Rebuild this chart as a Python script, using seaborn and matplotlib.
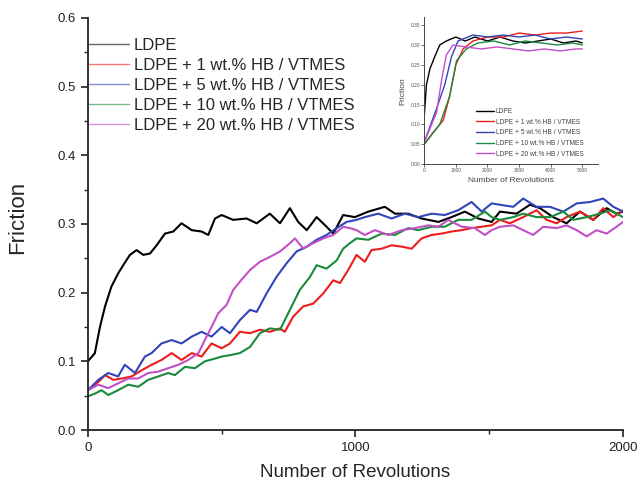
import matplotlib
matplotlib.use("Agg")
import matplotlib.pyplot as plt
import seaborn as sns
import pandas as pd
from matplotlib.ticker import MultipleLocator

# series names + colours
labels = ["LDPE", "LDPE + 1 wt.% HB / VTMES", "LDPE + 5 wt.% HB / VTMES",
          "LDPE + 10 wt.% HB / VTMES", "LDPE + 20 wt.% HB / VTMES"]
colors = ["#000000", "#ee1c1c", "#2f45b8", "#1a8a3c", "#c24fc6"]

# main plot
ldpe_x = [0, 26, 45, 64, 88, 113, 132, 157, 182, 207, 232, 257, 288, 319, 350, 388, 425, 450, 475, 500,
          543, 593, 631, 680, 718, 755, 786, 818, 855, 892, 917, 954, 998, 1048, 1110, 1148, 1197, 1247,
          1310, 1359, 1409, 1459, 1509, 1540, 1602, 1652, 1690, 1739, 1789, 1839, 1889, 1939, 1976, 2000]
ldpe_y = [0.100, 0.112, 0.150, 0.180, 0.209, 0.228, 0.240, 0.255, 0.262, 0.255, 0.257, 0.269, 0.286, 0.289,
          0.301, 0.291, 0.289, 0.284, 0.308, 0.313, 0.306, 0.308, 0.301, 0.315, 0.301, 0.323, 0.303, 0.291,
          0.310, 0.296, 0.286, 0.313, 0.310, 0.318, 0.325, 0.315, 0.315, 0.308, 0.303, 0.310, 0.318, 0.308,
          0.303, 0.318, 0.315, 0.328, 0.323, 0.310, 0.301, 0.318, 0.306, 0.323, 0.315, 0.318]

hb1_x = [0, 39, 64, 95, 126, 163, 201, 238, 275, 313, 350, 388, 425, 462, 500, 531, 568, 606, 643, 680,
         718, 736, 767, 805, 842, 880, 917, 942, 973, 1004, 1035, 1060, 1098, 1135, 1173, 1210, 1247, 1285,
         1322, 1359, 1397, 1434, 1472, 1509, 1540, 1577, 1627, 1677, 1714, 1752, 1789, 1839, 1889, 1926,
         1964, 2000]
hb1_y = [0.058, 0.070, 0.080, 0.073, 0.075, 0.078, 0.087, 0.095, 0.102, 0.112, 0.102, 0.112, 0.107, 0.126,
         0.119, 0.126, 0.143, 0.141, 0.146, 0.143, 0.148, 0.143, 0.165, 0.180, 0.184, 0.199, 0.218, 0.214,
         0.233, 0.255, 0.245, 0.262, 0.264, 0.269, 0.267, 0.264, 0.279, 0.284, 0.286, 0.289, 0.291, 0.294,
         0.296, 0.298, 0.306, 0.301, 0.310, 0.320, 0.306, 0.301, 0.310, 0.318, 0.306, 0.323, 0.310, 0.320]

hb5_x = [0, 39, 76, 113, 138, 176, 213, 238, 275, 313, 350, 388, 425, 462, 500, 531, 568, 606, 631, 668,
         705, 743, 780, 818, 855, 892, 930, 967, 1004, 1035, 1085, 1135, 1185, 1235, 1285, 1334, 1384, 1434,
         1472, 1509, 1540, 1590, 1627, 1677, 1727, 1777, 1827, 1877, 1926, 1964, 2000]
hb5_y = [0.058, 0.073, 0.083, 0.078, 0.095, 0.083, 0.107, 0.112, 0.126, 0.131, 0.126, 0.136, 0.143, 0.136,
         0.150, 0.141, 0.160, 0.175, 0.172, 0.199, 0.223, 0.243, 0.260, 0.267, 0.277, 0.284, 0.294, 0.303,
         0.306, 0.310, 0.315, 0.308, 0.315, 0.310, 0.315, 0.313, 0.320, 0.332, 0.318, 0.330, 0.328, 0.325,
         0.337, 0.325, 0.325, 0.318, 0.330, 0.332, 0.337, 0.325, 0.318]

hb10_x = [0, 26, 51, 76, 113, 151, 188, 225, 263, 300, 325, 363, 400, 437, 475, 500, 531, 568, 606, 643,
          680, 718, 755, 792, 830, 855, 892, 930, 954, 979, 1004, 1048, 1098, 1148, 1197, 1235, 1285, 1334,
          1384, 1434, 1484, 1509, 1540, 1590, 1627, 1677, 1727, 1777, 1814, 1864, 1914, 1951, 2000]
hb10_y = [0.049, 0.053, 0.058, 0.051, 0.058, 0.066, 0.063, 0.073, 0.078, 0.083, 0.080, 0.092, 0.090, 0.100,
          0.104, 0.107, 0.109, 0.112, 0.121, 0.141, 0.148, 0.146, 0.175, 0.204, 0.223, 0.240, 0.235, 0.247,
          0.264, 0.272, 0.279, 0.277, 0.286, 0.284, 0.294, 0.291, 0.296, 0.296, 0.306, 0.306, 0.318, 0.310,
          0.306, 0.310, 0.315, 0.310, 0.310, 0.318, 0.306, 0.310, 0.315, 0.320, 0.310]

hb20_x = [0, 39, 76, 113, 151, 188, 225, 263, 300, 338, 375, 413, 437, 462, 487, 518, 543, 568, 606, 643,
          680, 718, 755, 774, 805, 842, 880, 917, 954, 979, 1004, 1035, 1073, 1123, 1173, 1222, 1272, 1310,
          1347, 1397, 1446, 1484, 1509, 1540, 1590, 1627, 1664, 1702, 1752, 1789, 1827, 1864, 1901, 1939,
          1976, 2000]
hb20_y = [0.058, 0.066, 0.061, 0.068, 0.075, 0.075, 0.083, 0.085, 0.090, 0.095, 0.102, 0.112, 0.131, 0.150,
          0.170, 0.182, 0.204, 0.216, 0.233, 0.245, 0.252, 0.260, 0.272, 0.279, 0.264, 0.272, 0.279, 0.284,
          0.296, 0.294, 0.291, 0.284, 0.291, 0.284, 0.291, 0.294, 0.298, 0.296, 0.306, 0.296, 0.294, 0.284,
          0.291, 0.296, 0.298, 0.291, 0.284, 0.296, 0.294, 0.298, 0.291, 0.282, 0.291, 0.286, 0.296, 0.303]

# inset (0-5000 revolutions)
in_ldpe_x = [0, 70, 180, 330, 490, 700, 1000, 1300, 1600, 2000, 2400, 2800, 3200, 3600, 4000, 4400, 4800, 5000]
in_ldpe_y = [0.12, 0.20, 0.24, 0.27, 0.30, 0.31, 0.32, 0.31, 0.32, 0.31, 0.32, 0.31, 0.305, 0.31, 0.315, 0.305, 0.31, 0.305]
in_hb1_x = [0, 280, 600, 800, 1000, 1230, 1540, 2000, 2500, 3000, 3500, 4000, 4500, 5000]
in_hb1_y = [0.05, 0.08, 0.11, 0.17, 0.25, 0.29, 0.31, 0.32, 0.32, 0.33, 0.325, 0.33, 0.33, 0.335]
in_hb5_x = [0, 390, 650, 860, 1070, 1540, 2000, 2500, 3000, 3500, 4000, 4500, 5000]
in_hb5_y = [0.055, 0.14, 0.20, 0.27, 0.31, 0.325, 0.32, 0.325, 0.32, 0.325, 0.315, 0.32, 0.315]
in_hb10_x = [0, 490, 800, 1020, 1330, 1700, 2200, 2700, 3200, 3700, 4200, 4700, 5000]
in_hb10_y = [0.05, 0.10, 0.17, 0.26, 0.29, 0.305, 0.31, 0.30, 0.31, 0.305, 0.30, 0.305, 0.30]
in_hb20_x = [0, 390, 545, 700, 910, 1300, 1800, 2300, 2800, 3300, 3800, 4300, 4800, 5000]
in_hb20_y = [0.055, 0.13, 0.21, 0.275, 0.30, 0.295, 0.29, 0.295, 0.29, 0.285, 0.29, 0.285, 0.29, 0.29]


def long_df(xs, ys):
    parts = []
    for lab, x, y in zip(labels, xs, ys):
        parts.append(pd.DataFrame({"rev": x, "friction": y, "sample": lab}))
    return pd.concat(parts, ignore_index=True)


main = long_df([ldpe_x, hb1_x, hb5_x, hb10_x, hb20_x], [ldpe_y, hb1_y, hb5_y, hb10_y, hb20_y])
inset = long_df([in_ldpe_x, in_hb1_x, in_hb5_x, in_hb10_x, in_hb20_x],
                [in_ldpe_y, in_hb1_y, in_hb5_y, in_hb10_y, in_hb20_y])

sns.set_style("ticks")
plt.rcParams["font.family"] = ["Liberation Sans", "DejaVu Sans"]

fig = plt.figure(figsize=(6.37, 4.9), dpi=100)
ax = fig.add_axes([0.138, 0.1224, 0.840, 0.841])
pal = dict(zip(labels, colors))

sns.lineplot(data=main, x="rev", y="friction", hue="sample", palette=pal, hue_order=labels,
             estimator=None, sort=False, linewidth=1.5, ax=ax)
ax.set_xlim(0, 2000)
ax.set_ylim(0, 0.6)
ax.xaxis.set_major_locator(MultipleLocator(1000))
ax.xaxis.set_minor_locator(MultipleLocator(500))
ax.yaxis.set_major_locator(MultipleLocator(0.1))
ax.yaxis.set_minor_locator(MultipleLocator(0.05))
ax.yaxis.set_major_formatter(matplotlib.ticker.FormatStrFormatter("%.1f"))
ax.tick_params(which="major", length=5, width=1.2, labelsize=9.5, colors="#222222")
ax.tick_params(which="minor", length=3, width=1.0, colors="#222222")
for s in ["left", "bottom"]:
    ax.spines[s].set_linewidth(1.3)
    ax.spines[s].set_color("#222222")
sns.despine(ax=ax)
ax.set_xlabel("Number of Revolutions", fontsize=13.5, labelpad=7)
ax.set_ylabel("Friction", fontsize=16)
ax.yaxis.set_label_coords(-0.112, 0.515)

h, l = ax.get_legend_handles_labels()
leg = ax.legend(h, l, loc="upper left", bbox_to_anchor=(0.002, 0.952), frameon=False, fontsize=12,
                handlelength=2.4, handletextpad=0.3, labelspacing=0.3, borderaxespad=0, borderpad=0)
for ln in leg.get_lines():
    ln.set_linewidth(1.0)
    ln.set_alpha(0.6)

# inset
axi = fig.add_axes([0.666, 0.665, 0.273, 0.30])
sns.lineplot(data=inset, x="rev", y="friction", hue="sample", palette=pal, hue_order=labels,
             estimator=None, sort=False, linewidth=1.0, ax=axi)
axi.set_xlim(0, 5500)
axi.set_ylim(0, 0.37)
axi.xaxis.set_major_locator(MultipleLocator(1000))
axi.yaxis.set_major_locator(MultipleLocator(0.05))
axi.yaxis.set_major_formatter(matplotlib.ticker.FormatStrFormatter("%.2f"))
axi.tick_params(length=2, width=0.6, labelsize=3.5, pad=1, colors="#555555")
for s in ["left", "bottom"]:
    axi.spines[s].set_linewidth(0.7)
    axi.spines[s].set_color("#444444")
sns.despine(ax=axi)
axi.set_xlabel("Number of Revolutions", fontsize=6, labelpad=3, color="#444444")
axi.set_ylabel("Friction", fontsize=6, labelpad=3, color="#444444")
hi, li = axi.get_legend_handles_labels()
axi.legend(hi, li, loc="lower left", bbox_to_anchor=(0.30, 0.045), frameon=False, fontsize=4.8,
           handlelength=2.6, handletextpad=0.3, labelspacing=0.55, borderaxespad=0, borderpad=0,
           labelcolor="#444444")

fig.savefig("out.png", dpi=100)
